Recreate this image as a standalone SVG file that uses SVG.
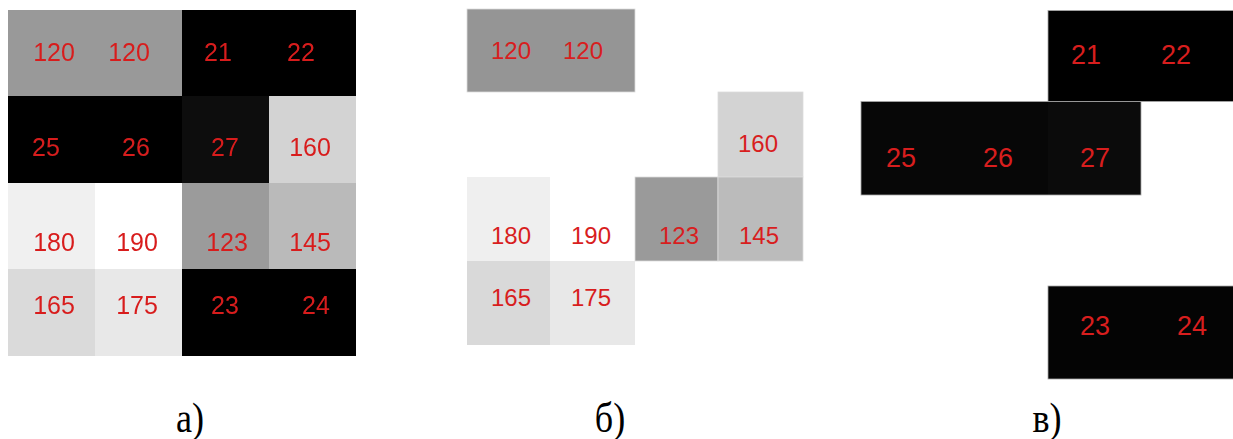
<svg xmlns="http://www.w3.org/2000/svg" width="1233" height="439" viewBox="0 0 1233 439">
  <style>
    .num { font-family: "Liberation Sans", Arial, sans-serif; fill: #d81e1e; text-anchor: middle; }
    .na { font-size: 25px; }
    .nb { font-size: 24px; }
    .nc { font-size: 27px; }
    .lbl { font-family: "Liberation Serif", "Times New Roman", serif; font-size: 42px; fill: #000; text-anchor: middle; }
    .eb { stroke: #dcdcdc; stroke-width: 0.8; }
    .ec { stroke: #a8a8a8; stroke-width: 0.8; }
  </style>
  <defs>
    <filter id="soft" x="-5%" y="-5%" width="110%" height="110%">
      <feGaussianBlur stdDeviation="0.6"/>
    </filter>
  </defs>
  <rect width="1233" height="439" fill="#ffffff"/>

  <!-- Panel a: full 4x4 image -->
  <g id="panel-a" filter="url(#soft)">
    <g id="a-120"><rect x="8" y="10" width="174" height="86" fill="#999999"/>
      <text class="num na" x="54" y="61">120</text><text class="num na" x="129" y="61">120</text></g>
    <g id="a-21-22"><rect x="182" y="10" width="174" height="86" fill="#000000"/>
      <text class="num na" x="218" y="61">21</text><text class="num na" x="301" y="61">22</text></g>
    <g id="a-25-26"><rect x="8" y="96" width="174" height="87" fill="#060606"/>
      <text class="num na" x="46" y="156">25</text><text class="num na" x="136" y="156">26</text></g>
    <g id="a-27"><rect x="182" y="96" width="87" height="87" fill="#0b0b0b"/>
      <text class="num na" x="225" y="156">27</text></g>
    <g id="a-160"><rect x="269" y="96" width="87" height="87" fill="#d3d3d3"/>
      <text class="num na" x="310" y="156">160</text></g>
    <g id="a-180"><rect x="8" y="183" width="87" height="86" fill="#f0f0f0"/>
      <text class="num na" x="54" y="251">180</text></g>
    <g id="a-190"><rect x="95" y="183" width="87" height="86" fill="#ffffff"/>
      <text class="num na" x="137" y="251">190</text></g>
    <g id="a-123"><rect x="182" y="183" width="87" height="86" fill="#9b9b9b"/>
      <text class="num na" x="227" y="251">123</text></g>
    <g id="a-145"><rect x="269" y="183" width="87" height="86" fill="#bababa"/>
      <text class="num na" x="310" y="251">145</text></g>
    <g id="a-165"><rect x="8" y="269" width="87" height="87" fill="#dadada"/>
      <text class="num na" x="54" y="314">165</text></g>
    <g id="a-175"><rect x="95" y="269" width="87" height="87" fill="#e8e8e8"/>
      <text class="num na" x="137" y="314">175</text></g>
    <g id="a-23-24"><rect x="182" y="269" width="174" height="87" fill="#030303"/>
      <text class="num na" x="225" y="314">23</text><text class="num na" x="316" y="314">24</text></g>
  </g>

  <!-- Panel b: light regions -->
  <g id="panel-b">
    <g id="b-120"><rect class="eb" x="467" y="9" width="168" height="83" fill="#959595"/>
      <text class="num nb" x="511" y="59">120</text><text class="num nb" x="583" y="59">120</text></g>
    <g id="b-160"><rect class="eb" x="718" y="92" width="85" height="85" fill="#d3d3d3"/>
      <text class="num nb" x="758" y="152">160</text></g>
    <g id="b-180"><rect x="467" y="177" width="83" height="84" fill="#efefef"/>
      <text class="num nb" x="511" y="244">180</text></g>
    <g id="b-190"><rect x="550" y="177" width="85" height="84" fill="#ffffff"/>
      <text class="num nb" x="591" y="244">190</text></g>
    <g id="b-123"><rect class="eb" x="635" y="177" width="83" height="84" fill="#9a9a9a"/>
      <text class="num nb" x="679" y="244">123</text></g>
    <g id="b-145"><rect class="eb" x="718" y="177" width="85" height="84" fill="#bbbbbb"/>
      <text class="num nb" x="759" y="244">145</text></g>
    <g id="b-165"><rect x="467" y="261" width="83" height="84" fill="#d9d9d9"/>
      <text class="num nb" x="511" y="306">165</text></g>
    <g id="b-175"><rect x="550" y="261" width="85" height="84" fill="#e8e8e8"/>
      <text class="num nb" x="591" y="306">175</text></g>
  </g>

  <!-- Panel c: dark regions -->
  <g id="panel-c">
    <g id="c-21-22"><rect class="ec" x="1048" y="10.5" width="186" height="91" fill="#000000"/>
      <text class="num nc" x="1086" y="64">21</text><text class="num nc" x="1176" y="64">22</text></g>
    <g id="c-25-26"><rect x="861" y="101.5" width="187" height="93.5" fill="#070707"/>
      <text class="num nc" x="901" y="167">25</text><text class="num nc" x="998" y="167">26</text></g>
    <g id="c-27"><rect x="1048" y="101.5" width="93" height="93.5" fill="#0b0b0b"/>
      <text class="num nc" x="1095" y="167">27</text></g>
    <rect class="ec" x="861" y="101.5" width="280" height="93.5" fill="none"/>
    <g id="c-23-24"><rect class="ec" x="1048" y="286" width="186" height="93" fill="#040404"/>
      <text class="num nc" x="1095" y="335">23</text><text class="num nc" x="1192" y="335">24</text></g>
  </g>

  <!-- Panel captions -->
  <g id="captions">
    <text class="lbl" transform="translate(190,432) scale(0.86,1)">а)</text>
    <text class="lbl" transform="translate(610,432) scale(0.86,1)">б)</text>
    <text class="lbl" transform="translate(1047,432) scale(0.86,1)">в)</text>
  </g>
</svg>
